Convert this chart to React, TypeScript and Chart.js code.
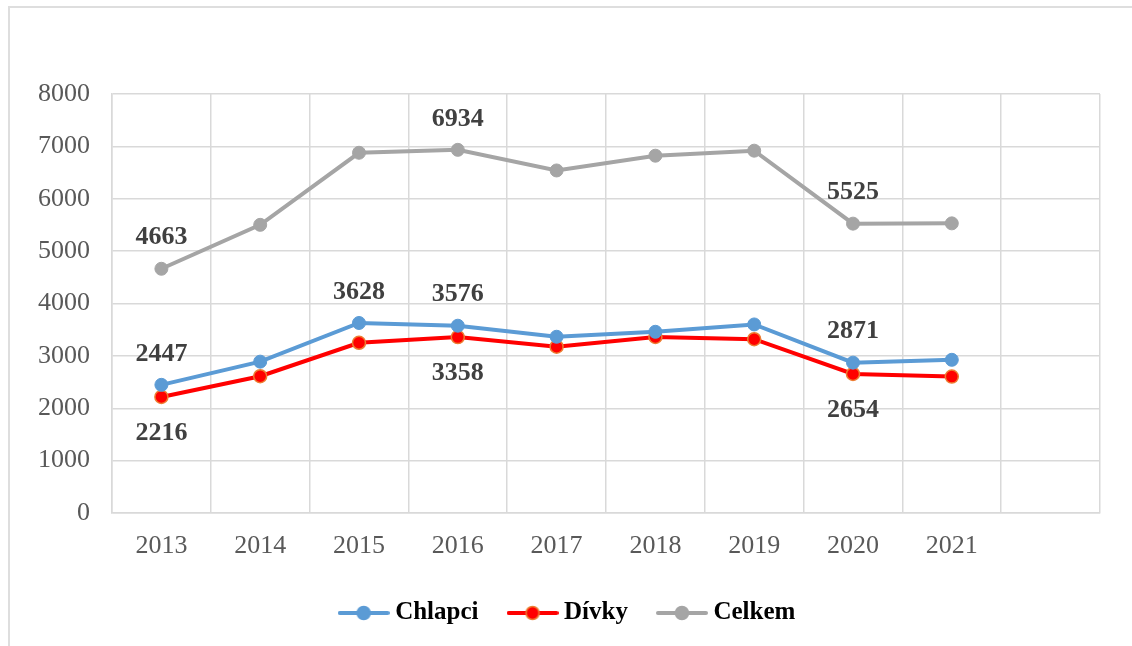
import React, { useEffect, useRef } from "react";
import { Chart, registerables } from "chart.js";

Chart.register(...registerables);

const categories = ["2013", "2014", "2015", "2016", "2017", "2018", "2019", "2020", "2021", ""];
const chlapci = [2447, 2890, 3628, 3576, 3365, 3460, 3600, 2871, 2925];
const divky = [2216, 2612, 3250, 3358, 3175, 3362, 3318, 2654, 2605];
const celkem = [4663, 5502, 6878, 6934, 6540, 6822, 6918, 5525, 5530];
const seriesNames = ["Chlapci", "Dívky", "Celkem"];

const yMin = 0;
const yMax = 8000;
const yStep = 1000;

// indices of points that carry a value label
const labelIdxChlapci = [0, 2, 3, 7];
const labelIdxDivky = [0, 3, 7];
const labelIdxCelkem = [0, 3, 7];

const SERIF = "'Liberation Serif', 'Times New Roman', serif";

function makeMarker(line: string, fill: string, border: string) {
  const c = document.createElement("canvas");
  c.width = 52;
  c.height = 18;
  const ctx = c.getContext("2d")!;
  ctx.strokeStyle = line;
  ctx.lineWidth = 4;
  ctx.lineCap = "round";
  ctx.beginPath();
  ctx.moveTo(2, 9);
  ctx.lineTo(50, 9);
  ctx.stroke();
  ctx.beginPath();
  ctx.arc(26, 9, 6.5, 0, Math.PI * 2);
  ctx.fillStyle = fill;
  ctx.fill();
  ctx.lineWidth = 1.5;
  ctx.strokeStyle = border;
  ctx.stroke();
  return c;
}

const valueLabels = {
  id: "valueLabels",
  afterDatasetsDraw(chart: any) {
    const ctx = chart.ctx;
    const cfg = [
      { ds: 0, idx: labelIdxChlapci, dy: -31 },
      { ds: 1, idx: labelIdxDivky, dy: 36 },
      { ds: 2, idx: labelIdxCelkem, dy: -31 },
    ];
    ctx.save();
    ctx.font = `bold 26px ${SERIF}`;
    ctx.fillStyle = "#404040";
    ctx.textAlign = "center";
    ctx.textBaseline = "middle";
    cfg.forEach(({ ds, idx, dy }) => {
      const meta = chart.getDatasetMeta(ds);
      const data = chart.data.datasets[ds].data;
      idx.forEach((i: number) => {
        const p = meta.data[i];
        if (!p) return;
        ctx.fillText(String(data[i]), p.x, p.y + dy);
      });
    });
    ctx.restore();
  },
};

// nudge the legend row to the right so it sits where the reference has it
const legendShift = {
  id: "legendShift",
  afterLayout(chart: any) {
    if (chart.legend) {
      chart.legend.left += 5;
      chart.legend.right += 5;
    }
  },
};

export default function App() {
  const ref = useRef<HTMLCanvasElement>(null);

  useEffect(() => {
    if (!ref.current) return;
    const markers = [
      makeMarker("#5B9BD5", "#5B9BD5", "#5B9BD5"),
      makeMarker("#FF0000", "#FF0000", "#ED7D31"),
      makeMarker("#A5A5A5", "#A5A5A5", "#A5A5A5"),
    ];
    const chart = new Chart(ref.current, {
      type: "line",
      data: {
        labels: categories,
        datasets: [
          {
            label: seriesNames[0],
            data: chlapci,
            borderColor: "#5B9BD5",
            backgroundColor: "#5B9BD5",
            pointBackgroundColor: "#5B9BD5",
            pointBorderColor: "#5B9BD5",
            borderWidth: 4,
            pointRadius: 6.5,
            pointBorderWidth: 1,
            tension: 0,
          },
          {
            label: seriesNames[1],
            data: divky,
            borderColor: "#FF0000",
            backgroundColor: "#FF0000",
            pointBackgroundColor: "#FF0000",
            pointBorderColor: "#ED7D31",
            borderWidth: 4,
            pointRadius: 6.5,
            pointBorderWidth: 1.5,
            tension: 0,
          },
          {
            label: seriesNames[2],
            data: celkem,
            borderColor: "#A5A5A5",
            backgroundColor: "#A5A5A5",
            pointBackgroundColor: "#A5A5A5",
            pointBorderColor: "#A5A5A5",
            borderWidth: 4,
            pointRadius: 6.5,
            pointBorderWidth: 1,
            tension: 0,
          },
        ],
      },
      options: {
        animation: false,
        responsive: false,
        maintainAspectRatio: false,
        layout: { padding: { top: 94, left: 30, right: 32, bottom: 10.5 } },
        plugins: {
          tooltip: { enabled: false },
          legend: {
            position: "bottom",
            labels: {
              usePointStyle: true,
              pointStyleWidth: 38,
              padding: 35,
              color: "#000000",
              font: { family: SERIF, size: 25, weight: "bold" },
              generateLabels: () =>
                seriesNames.map((name, i) => ({
                  text: name,
                  fillStyle: "transparent",
                  strokeStyle: "transparent",
                  lineWidth: 0,
                  pointStyle: markers[i] as any,
                  hidden: false,
                  datasetIndex: i,
                  fontColor: "#000000",
                })),
            },
          },
        },
        scales: {
          x: {
            offset: true,
            grid: {
              offset: true,
              color: "#D9D9D9",
              lineWidth: 1.5,
              drawTicks: false,
            },
            border: { color: "#D9D9D9", width: 1.5 },
            ticks: {
              color: "#595959",
              padding: 18,
              font: { family: SERIF, size: 26 },
              maxRotation: 0,
              autoSkip: false,
            },
            afterFit: (s: any) => {
              s.height = 52.5;
            },
          },
          y: {
            min: yMin,
            max: yMax,
            grid: { color: "#D9D9D9", lineWidth: 1.5, drawTicks: false },
            border: { color: "#D9D9D9", width: 1.5 },
            ticks: {
              stepSize: yStep,
              color: "#595959",
              padding: 22,
              font: { family: SERIF, size: 26 },
              callback: (v: any) => String(v),
            },
            afterFit: (s: any) => {
              s.width = 82;
            },
          },
        },
      },
      plugins: [valueLabels, legendShift],
    });
    return () => chart.destroy();
  }, []);

  return (
    <div
      style={{
        position: "fixed",
        left: 0,
        top: 0,
        width: 1132,
        height: 646,
        overflow: "hidden",
        background: "#ffffff",
      }}
    >
      <div
        style={{
          position: "absolute",
          left: 8,
          top: 6,
          width: 1400,
          height: 900,
          border: "2px solid #DEDEDE",
          boxSizing: "border-box",
        }}
      />
      <canvas
        ref={ref}
        width={1132}
        height={646}
        style={{ position: "absolute", left: 0, top: 0, width: 1132, height: 646 }}
      />
    </div>
  );
}
